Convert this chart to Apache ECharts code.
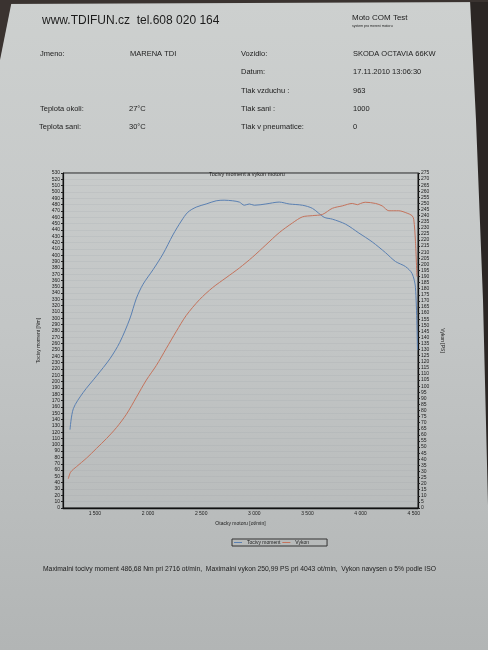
<!DOCTYPE html>
<html>
<head>
<meta charset="utf-8">
<script src="https://cdn.jsdelivr.net/npm/echarts@6/dist/echarts.min.js"></script>
<style>
html,body{margin:0;padding:0;background:#2b2624;}
#c{width:488px;height:650px;}
</style>
</head>
<body>
<div id="c"></div>
<script>
// Torque curve (Tocivy moment, Nm) — rpm / value
var torqueRpm = [1266,1297,1391,1516,1641,1734,1828,1891,1953,2047,2141,2234,2313,2375,2453,2547,2641,2716,2797,2859,2906,2953,3000,3109,3234,3328,3453,3547,3656,3734,3859,3984,4109,4234,4328,4422,4484,4516,4535];
var torqueNm  = [124,157,183,209,236,262,299,332,354,377,402,432,454,468,476,481,486,487,486,484,479,481,479,481,484,481,479,474,460,457,449,435,421,404,390,382,371,349,250];

// Power curve (Vykon, PS) — rpm / value
var powerRpm = [1250,1272,1328,1422,1516,1609,1703,1797,1891,1984,2078,2172,2266,2359,2484,2609,2734,2859,2984,3109,3234,3359,3453,3547,3641,3734,3828,3922,3970,4000,4043,4141,4203,4266,4359,4438,4484,4500,4516,4530];
var powerPS  = [24,29.5,34,41,49,57,66,77,91,105,117,131,145,158,171,181,189,197,206,216,226,234,239,240,241,246,248,250,249,250,251,250,248,244,244,242,240,237,219,190];

var seriesNames = ['Tocivy moment', 'Vykon'];
var xTickLabels = [1500, 2000, 2500, 3000, 3500, 4000, 4500];

function pairs(xs, ys){ return xs.map(function(x,i){ return [x, ys[i]]; }); }
function fmtRpm(v){ var s = String(v); return s.length > 3 ? s.slice(0, s.length-3) + ' ' + s.slice(-3) : s; }

var chart = echarts.init(document.getElementById('c'), null, {renderer:'canvas'});
var txt = '#1c1c1c';
var ff = 'Liberation Sans, Arial, sans-serif';

function T(x, y, s, size, extra){
  var o = {type:'text', left:x, top:y, style:{text:s, fill:txt, font: (size)+'px '+ff}};
  if (extra) { for (var k in extra) o.style[k] = extra[k]; }
  return o;
}

var option = {
  backgroundColor: {
    type:'linear', x:0, y:0, x2:0, y2:1,
    colorStops:[{offset:0,color:'#cdd0cf'},{offset:0.5,color:'#c3c6c6'},{offset:1,color:'#b2b5b5'}]
  },
  animation:false,
  textStyle:{fontFamily:ff},
  title:{
    text:'Tocivy moment a vykon motoru',
    left:204, top:166,
    textStyle:{fontSize:5.5, fontWeight:'normal', color:txt, fontFamily:ff}
  },
  legend:{
    left:232, top:539,
    data:seriesNames,
    itemWidth:8, itemHeight:1, itemGap:2,
    padding:[1,18,1,2],
    borderColor:'#333', borderWidth:1,
    icon:'rect',
    textStyle:{fontSize:5, color:txt, fontFamily:ff}
  },
  grid:{
    left:63, right:70, top:173, bottom:142,
    show:true, borderColor:'#222', borderWidth:1, backgroundColor:'transparent'
  },
  xAxis:{
    type:'value', min:1200, max:4540, interval:100,
    name:'Otacky motoru [ot/min]', nameLocation:'middle', nameGap:10,
    nameTextStyle:{fontSize:5, color:txt},
    axisLine:{show:true, lineStyle:{color:'#111', width:1.4}},
    axisTick:{show:false},
    splitLine:{show:false},
    axisLabel:{
      fontSize:5, color:txt, margin:3,
      formatter:function(v){ return xTickLabels.indexOf(v) >= 0 ? fmtRpm(v) : ''; }
    }
  },
  yAxis:[
    {
      type:'value', min:0, max:530, interval:10, position:'left',
      name:'Tocivy moment [Nm]', nameLocation:'middle', nameRotate:90, nameGap:15,
      nameTextStyle:{fontSize:5, color:txt},
      axisLine:{show:true, lineStyle:{color:'#111', width:1.2}},
      axisTick:{show:true, length:2, lineStyle:{color:'#222'}},
      axisLabel:{fontSize:5, color:txt, margin:3},
      splitLine:{show:true, lineStyle:{color:'rgba(150,158,165,0.28)', width:0.6}}
    },
    {
      type:'value', min:0, max:275, interval:5, position:'right',
      name:'Vykon [PS]', nameLocation:'middle', nameRotate:-90, nameGap:16,
      nameTextStyle:{fontSize:5, color:txt},
      axisLine:{show:true, lineStyle:{color:'#111', width:1.2}},
      axisTick:{show:true, length:2, lineStyle:{color:'#222'}},
      axisLabel:{fontSize:5, color:txt, margin:3},
      splitLine:{show:false}
    }
  ],
  series:[
    {
      name:seriesNames[0], type:'line', yAxisIndex:0, showSymbol:false, smooth:0.3,
      data:pairs(torqueRpm, torqueNm),
      lineStyle:{color:'#5a80b2', width:1}, itemStyle:{color:'#5a80b2'}
    },
    {
      name:seriesNames[1], type:'line', yAxisIndex:1, showSymbol:false, smooth:0.3,
      data:pairs(powerRpm, powerPS),
      lineStyle:{color:'#c4735c', width:1}, itemStyle:{color:'#c4735c'}
    }
  ],
  graphic:[
    {type:'polygon', shape:{points:[[470,0],[488,0],[488,505],[483,300],[476,120]]}, style:{fill:'#2b2624'}, silent:true},
    {type:'polygon', shape:{points:[[0,0],[488,0],[488,2],[0,4]]}, style:{fill:'#3a3330'}, silent:true},
    {type:'polygon', shape:{points:[[0,0],[12,0],[0,60]]}, style:{fill:'#3a3330'}, silent:true},
    T(42, 15, 'www.TDIFUN.cz  tel.608 020 164', 12),
    T(352, 14, 'Moto COM Test', 8),
    T(352, 24, 'system pro mereni motoru', 3.5),
    T(40, 50, 'Jmeno:', 7.5),
    T(130, 50, 'MARENA TDI', 7.5),
    T(241, 50, 'Vozidlo:', 7.5),
    T(353, 50, 'SKODA OCTAVIA 66KW', 7.5),
    T(241, 68, 'Datum:', 7.5),
    T(353, 68, '17.11.2010 13:06:30', 7.5),
    T(241, 87, 'Tlak vzduchu :', 7.5),
    T(353, 87, '963', 7.5),
    T(40, 105, 'Teplota okoli:', 7.5),
    T(129, 105, '27°C', 7.5),
    T(241, 105, 'Tlak sani :', 7.5),
    T(353, 105, '1000', 7.5),
    T(39, 123, 'Teplota sani:', 7.5),
    T(129, 123, '30°C', 7.5),
    T(241, 123, 'Tlak v pneumatice:', 7.5),
    T(353, 123, '0', 7.5),
    T(43, 566, 'Maximalni tocivy moment 486,68 Nm pri 2716 ot/min,  Maximalni vykon 250,99 PS pri 4043 ot/min,  Vykon navysen o 5% podle ISO', 6.75)
  ]
};
chart.setOption(option);
</script>
</body>
</html>
